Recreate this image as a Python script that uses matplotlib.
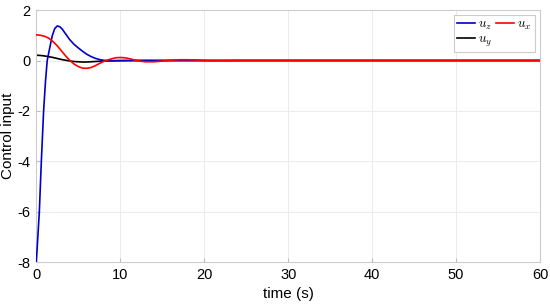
import numpy as np
import matplotlib.pyplot as plt

plt.rcParams['font.family'] = ['Liberation Sans', 'DejaVu Sans']
plt.rcParams['mathtext.fontset'] = 'cm'
plt.rcParams['axes.unicode_minus'] = False

# time samples (s) and control inputs
t_z = [0, 0.2, 0.36, 0.6, 0.87, 1.1, 1.3, 1.6, 1.9, 2.2, 2.5, 2.8, 3.1, 3.5,
       4.0, 4.5, 5.0, 5.5, 6.0, 6.5, 7.0, 7.5, 8.0, 9.0, 10.0, 12.0, 15.0, 60.0]
u_z = [-8.0, -6.9, -6.0, -4.0, -2.0, -0.8, 0.0, 0.5, 0.98, 1.27, 1.37, 1.34, 1.24, 1.05,
       0.82, 0.64, 0.5, 0.37, 0.25, 0.16, 0.09, 0.04, 0.01, -0.01, -0.01, 0.0, 0.0, 0.0]

t_x = [0, 0.5, 1.0, 1.5, 2.0, 2.5, 3.0, 3.5, 4.0, 4.5, 5.0, 5.5, 6.0, 6.5, 7.0, 7.5,
       8.0, 8.5, 9.0, 9.5, 10.0, 10.5, 11.0, 11.5, 12.0, 12.5, 13.0, 13.5, 14.0, 14.5,
       15.0, 16.0, 17.0, 18.0, 19.0, 20.0, 21.0, 22.0, 24.0, 26.0, 60.0]
u_x = [1.02, 1.0, 0.96, 0.88, 0.75, 0.58, 0.38, 0.18, 0.0, -0.14, -0.24, -0.3, -0.31, -0.28, -0.21, -0.12,
       -0.04, 0.02, 0.07, 0.11, 0.12, 0.11, 0.08, 0.04, 0.0, -0.03, -0.05, -0.05, -0.05, -0.04,
       -0.02, 0.01, 0.03, 0.03, 0.02, 0.0, -0.01, -0.01, 0.0, 0.0, 0.0]

t_y = [0, 0.5, 1.0, 1.5, 2.0, 2.5, 3.0, 3.5, 4.0, 4.5, 5.0, 5.5, 6.0, 6.5, 7.0, 7.5,
       8.0, 9.0, 10.0, 12.0, 60.0]
u_y = [0.21, 0.2, 0.18, 0.15, 0.12, 0.08, 0.04, 0.01, -0.02, -0.04, -0.05, -0.06, -0.06, -0.05, -0.04, -0.03,
       -0.02, -0.01, 0.0, 0.0, 0.0]

fig, ax = plt.subplots(figsize=(5.5, 3.05), dpi=100)
hy, = ax.plot(t_y, u_y, color='black', lw=1.2, label=r'$u_y$', zorder=2)
hz, = ax.plot(t_z, u_z, color='#0000CC', lw=1.2, label=r'$u_z$', zorder=3)
hx, = ax.plot(t_x, u_x, color='#FF0000', lw=1.2, label=r'$u_x$', zorder=4)

ax.set_xlim(0, 60)
ax.set_ylim(-8, 2)
ax.set_xticks(range(0, 61, 10))
ax.set_yticks(range(-8, 3, 2))
ax.tick_params(labelsize=10.5, direction='in', length=3, color='#bbbbbb', pad=4)
ax.set_xlabel('time (s)', fontsize=11, labelpad=4)
ax.set_ylabel('Control input', fontsize=11, labelpad=2)
ax.grid(color='#e8e8e8', lw=0.6)
for s in ax.spines.values():
    s.set_color('#cccccc')
    s.set_linewidth(0.8)

# row-major order in the legend: u_z, u_x / u_y
leg = ax.legend([hz, hy, hx], [r'$u_z$', r'$u_y$', r'$u_x$'], ncol=2,
                loc='upper right', fontsize=9.5, handlelength=1.4,
                handletextpad=0.2, columnspacing=0.3, borderpad=0.25,
                labelspacing=0.1, fancybox=False, framealpha=1,
                borderaxespad=0.4)
leg.get_frame().set_edgecolor('#cccccc')
leg.get_frame().set_linewidth(0.8)

fig.subplots_adjust(left=0.066, right=0.982, top=0.967, bottom=0.14)
fig.savefig('out.png', dpi=100)
